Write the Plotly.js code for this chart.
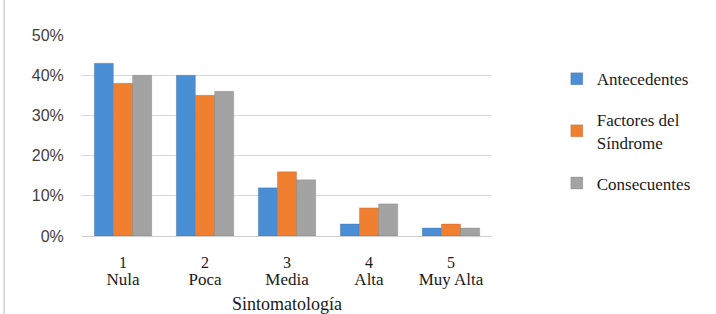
<!DOCTYPE html>
<html>
<head>
<meta charset="utf-8">
<script src="https://cdn.plot.ly/plotly-3.0.1.min.js"></script>
<style>html,body{margin:0;padding:0;background:#fff}#chart{width:716px;height:314px}</style>
</head>
<body>
<div id="chart"></div>
<script>
const categories = ["Nula", "Poca", "Media", "Alta", "Muy Alta"];
const categoryNumbers = ["1", "2", "3", "4", "5"];
const antecedentes = [0.43, 0.40, 0.12, 0.03, 0.02];
const factores = [0.38, 0.35, 0.16, 0.07, 0.03];
const consecuentes = [0.40, 0.36, 0.14, 0.08, 0.02];
const seriesNames = ["Antecedentes", "Factores del<br>Síndrome", "Consecuentes"];
const yTicks = [0, 0.1, 0.2, 0.3, 0.4, 0.5];
const yTickText = ["0%", "10%", "20%", "30%", "40%", "50%"];

const serif = "Liberation Serif, Times New Roman, serif";
const colors = ["#4a8fd6", "#f07f30", "#a3a3a3"];
const vals = [antecedentes, factores, consecuentes];
const traces = vals.map((v, i) => ({
  type: "bar",
  x: categories,
  y: v,
  name: seriesNames[i],
  legendgroup: "g" + i,
  marker: {color: colors[i], line: {color: "rgba(0,0,0,0.25)", width: 0.5}},
  hoverinfo: "skip"
}));

const layout = {
  width: 716, height: 314,
  margin: {l: 82, r: 224, t: 35, b: 78},
  paper_bgcolor: "#fff", plot_bgcolor: "#fff",
  barmode: "group", bargap: 0.3, bargroupgap: 0,
  showlegend: true,
  legend: {
    x: 1.158, y: 0.87, xanchor: "left", yanchor: "top",
    font: {family: serif, size: 17, color: "#1a1a1a"},
    traceorder: "grouped", tracegroupgap: 16, itemwidth: 30
  },
  xaxis: {
    type: "category", categoryarray: categories, categoryorder: "array",
    range: [-0.5, 4.5],
    tickvals: categories, ticktext: categoryNumbers,
    tickfont: {family: serif, size: 16, color: "#1a1a1a"},
    showline: false, ticks: "outside", ticklen: 12, tickcolor: "rgba(0,0,0,0)",
    automargin: false
  },
  xaxis2: {
    type: "category", categoryarray: categories, categoryorder: "array",
    overlaying: "x", side: "bottom", anchor: "y",
    range: [-0.5, 4.5],
    tickvals: categories, ticktext: categories,
    tickfont: {family: serif, size: 17, color: "#1a1a1a"},
    showline: false, showgrid: false, zeroline: false,
    ticks: "outside", ticklen: 28, tickcolor: "rgba(0,0,0,0)",
    title: {text: "Sintomatología", font: {family: serif, size: 18, color: "#1a1a1a"}, standoff: 8},
    automargin: false
  },
  yaxis: {
    range: [0, 0.5],
    tickvals: yTicks, ticktext: yTickText,
    tickfont: {family: "Liberation Sans, Arial, sans-serif", size: 16, color: "#404040"},
    ticks: "outside", ticklen: 14, tickcolor: "rgba(0,0,0,0)",
    gridcolor: "#d9d9d9", gridwidth: 1,
    zeroline: true, zerolinecolor: "#cfcfcf", zerolinewidth: 1,
    showline: false, automargin: false
  },
  shapes: [
    {type: "line", xref: "paper", yref: "paper", x0: -0.19, x1: -0.19, y0: -0.39, y1: 1.18, line: {color: "#bbbbbb", width: 1}}
  ]
};

// invisible helper trace on xaxis2 so its tick labels render
traces.push({type: "bar", x: categories, y: [null, null, null, null, null], xaxis: "x2", showlegend: false, hoverinfo: "skip"});

Plotly.newPlot("chart", traces, layout, {displayModeBar: false, staticPlot: true});
</script>
</body>
</html>
